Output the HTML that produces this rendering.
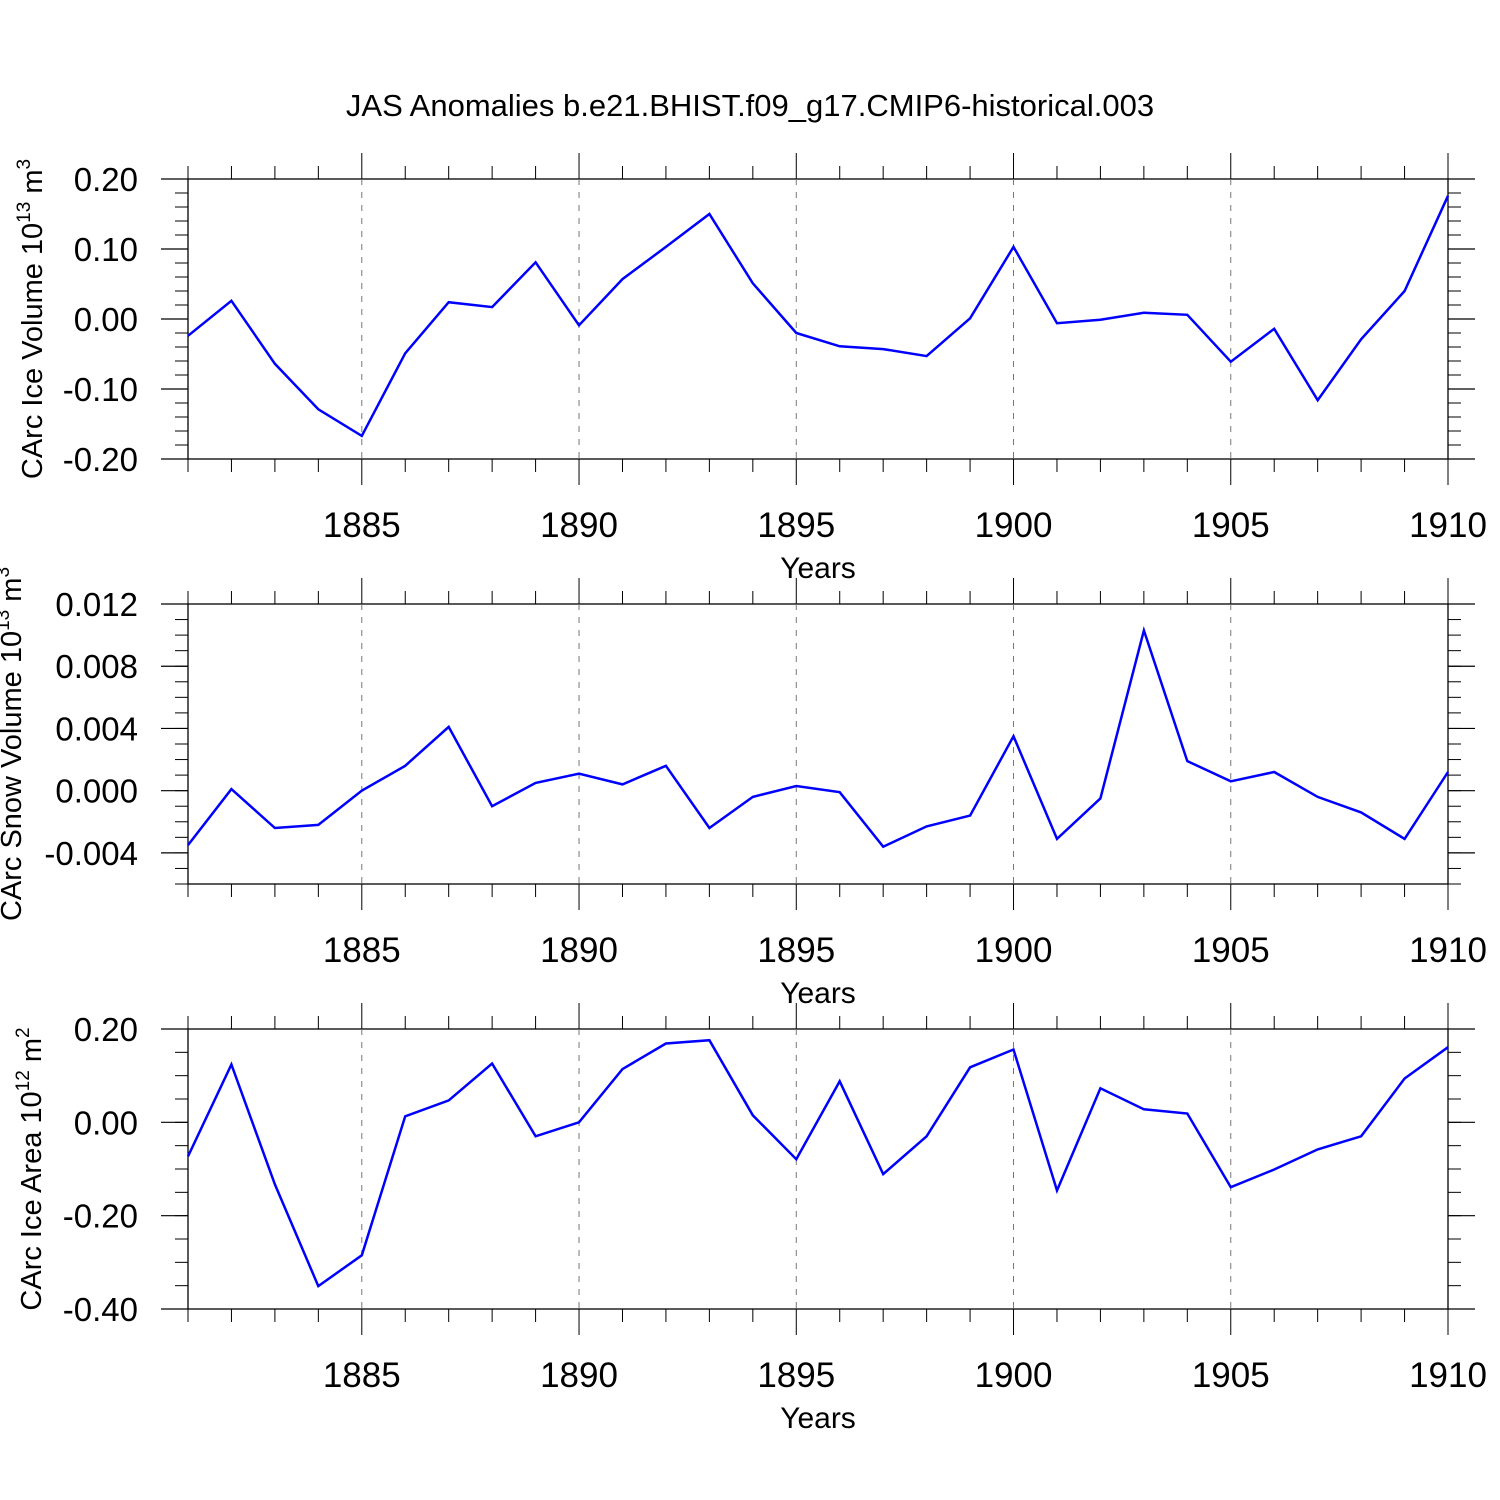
<!DOCTYPE html>
<html><head><meta charset="utf-8"><style>
html,body{margin:0;padding:0;background:#fff;}
svg{display:block;font-family:"Liberation Sans",Arial,sans-serif;}
</style></head><body>
<svg id="chart" width="1500" height="1500" viewBox="0 0 1500 1500" xmlns="http://www.w3.org/2000/svg">
<rect width="1500" height="1500" fill="#fff"/>
<text x="750" y="116" font-size="31" text-anchor="middle">JAS Anomalies b.e21.BHIST.f09_g17.CMIP6-historical.003</text>
</svg>
<script>
const years = [1881,1882,1883,1884,1885,1886,1887,1888,1889,1890,1891,1892,1893,1894,1895,1896,1897,1898,1899,1900,1901,1902,1903,1904,1905,1906,1907,1908,1909,1910];
const iceVolume = [-0.024,0.026,-0.064,-0.129,-0.167,-0.049,0.024,0.017,0.081,-0.009,0.057,0.103,0.150,0.051,-0.020,-0.039,-0.043,-0.053,0.001,0.103,-0.006,-0.001,0.009,0.006,-0.061,-0.014,-0.116,-0.029,0.040,0.176];
const snowVolume = [-0.0035,0.0001,-0.0024,-0.0022,0.0000,0.0016,0.0041,-0.0010,0.0005,0.0011,0.0004,0.0016,-0.0024,-0.0004,0.0003,-0.0001,-0.0036,-0.0023,-0.0016,0.0035,-0.0031,-0.0005,0.0103,0.0019,0.0006,0.0012,-0.0004,-0.0014,-0.0031,0.0012];
const iceArea = [-0.073,0.124,-0.133,-0.351,-0.285,0.013,0.047,0.126,-0.030,0.000,0.114,0.169,0.176,0.015,-0.079,0.088,-0.111,-0.030,0.118,0.156,-0.146,0.073,0.028,0.019,-0.139,-0.101,-0.058,-0.030,0.094,0.161];
const xTickLabels = ["1885","1890","1895","1900","1905","1910"];
const iceVolumeTicks = ["0.20","0.10","0.00","-0.10","-0.20"];
const snowVolumeTicks = ["0.012","0.008","0.004","0.000","-0.004"];
const iceAreaTicks = ["0.20","0.00","-0.20","-0.40"];

const NS="http://www.w3.org/2000/svg";
const svg=document.getElementById('chart');
function mk(tag,attrs,parent){const e=document.createElementNS(NS,tag);for(const k in attrs)e.setAttribute(k,attrs[k]);(parent||svg).appendChild(e);return e;}
const X0=188,X1=1448;
function xs(y){return X0+(y-years[0])*(X1-X0)/(years[years.length-1]-years[0]);}

function panel(opt){
  const g=mk('g',{});
  
  
  const T=opt.top,B=opt.top+280;
  const ys=v=>T+(opt.ymax-v)*(B-T)/(opt.ymax-opt.ymin);
  const fr=mk('rect',{x:X0,y:T,width:X1-X0,height:B-T,fill:'none',stroke:'#000','stroke-width':1.3},g);
  
  
  for(const y of years){
    const major=(y%5===0);
    const x=xs(y);
    const len=major?26:13;
    mk('line',{x1:x,y1:T,x2:x,y2:T-len,stroke:'#000','stroke-width':1},g);
    mk('line',{x1:x,y1:B,x2:x,y2:B+len,stroke:'#000','stroke-width':1},g);
    if(major && y<years[years.length-1]){
      const d=mk('line',{x1:x,y1:T,x2:x,y2:B,stroke:'#777','stroke-width':1,'stroke-dasharray':'6,7'},g);
      
      
    }
  }
  xTickLabels.forEach(l=>{
    const t=mk('text',{x:xs(+l),y:B+78,'font-size':35,'text-anchor':'middle'},g);
    
    
    t.textContent=l;
  });
  const xt=mk('text',{x:818,y:B+119,'font-size':30,'text-anchor':'middle'},g);
  
  
  xt.textContent='Years';
  const nMinor=Math.round((opt.ymax-opt.ymin)/opt.minor);
  for(let i=0;i<=nMinor;i++){
    const v=opt.ymax-i*opt.minor,y=ys(v);
    mk('line',{x1:X0,y1:y,x2:X0-13,y2:y,stroke:'#000','stroke-width':1},g);
    mk('line',{x1:X1,y1:y,x2:X1+13,y2:y,stroke:'#000','stroke-width':1},g);
  }
  opt.ticks.forEach(l=>{
    const y=ys(parseFloat(l));
    mk('line',{x1:X0,y1:y,x2:X0-27,y2:y,stroke:'#000','stroke-width':1.2},g);
    mk('line',{x1:X1,y1:y,x2:X1+27,y2:y,stroke:'#000','stroke-width':1.2},g);
    const t=mk('text',{x:138,y:y+12,'font-size':33,'text-anchor':'end'},g);
    
    
    t.textContent=l;
  });
  const yt=mk('text',{transform:`translate(${opt.tx},${opt.ty}) rotate(-90)`,'font-size':29,'text-anchor':'middle'},g);
  
  
  yt.innerHTML=opt.title+' 10<tspan dy="-12" font-size="19">'+opt.exp+'</tspan><tspan dy="12"> m</tspan><tspan dy="-12" font-size="19">'+opt.mexp+'</tspan>';
  const pts=opt.data.map((v,i)=>xs(years[i]).toFixed(1)+','+ys(v).toFixed(1)).join(' ');
  const pl=mk('polyline',{points:pts,fill:'none',stroke:'#0000ff','stroke-width':2.5,'stroke-linejoin':'miter'},g);
  
  
}
panel({name:'ice-volume-panel',top:179,ymin:-0.2,ymax:0.2,minor:0.02,ticks:iceVolumeTicks,data:iceVolume,title:'CArc Ice Volume',exp:'13',mexp:'3',tx:42,ty:319});
panel({name:'snow-volume-panel',top:604,ymin:-0.006,ymax:0.012,minor:0.001,ticks:snowVolumeTicks,data:snowVolume,title:'CArc Snow Volume',exp:'13',mexp:'3',tx:21,ty:744});
panel({name:'ice-area-panel',top:1029,ymin:-0.4,ymax:0.2,minor:0.05,ticks:iceAreaTicks,data:iceArea,title:'CArc Ice Area',exp:'12',mexp:'2',tx:41,ty:1169});
</script>
</body></html>
